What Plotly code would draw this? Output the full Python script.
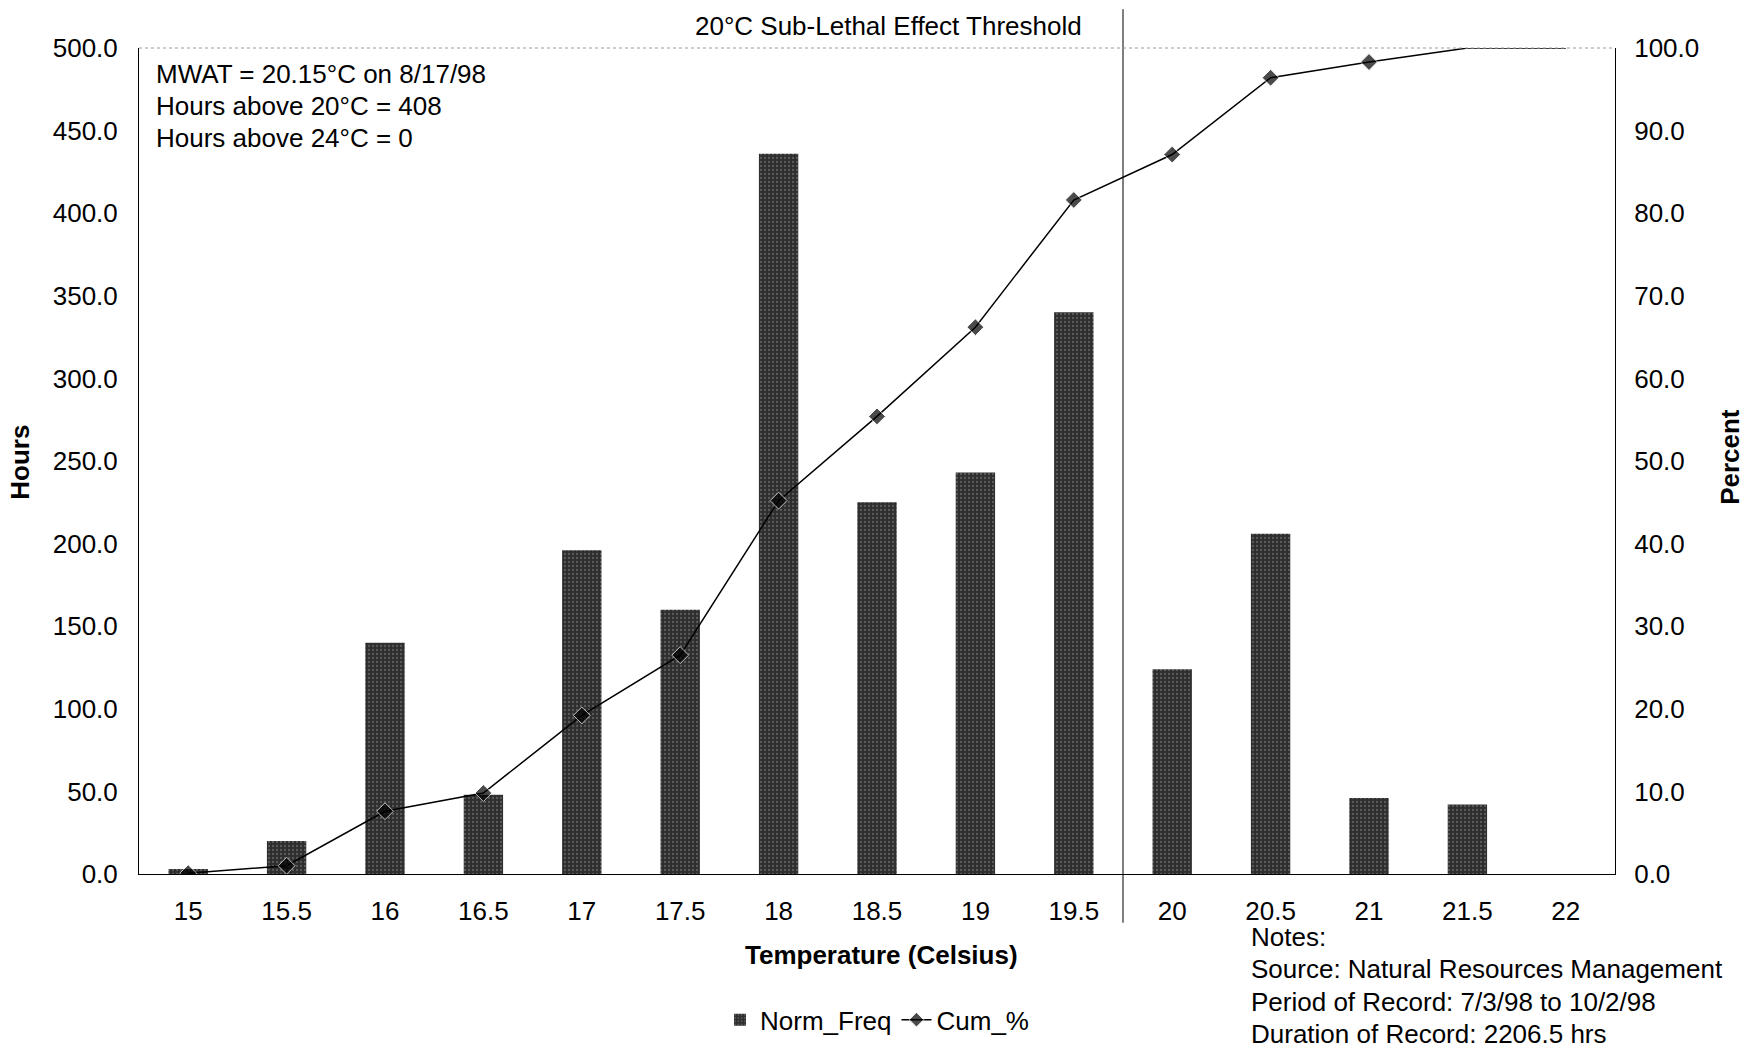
import plotly.graph_objects as go

# 数据：温度分档、归一化频数（小时）与累计百分比
temps = ["15", "15.5", "16", "16.5", "17", "17.5", "18", "18.5", "19", "19.5",
         "20", "20.5", "21", "21.5", "22"]
norm_freq = [3, 20, 140, 48, 196, 160, 436, 225, 243, 340, 124, 206, 46, 42, 0]
cum_pct = [0.1, 1.0, 7.6, 9.8, 19.2, 26.5, 45.2, 55.4, 66.2, 81.6, 87.1, 96.4,
           98.3, 100.0, 100.0]

threshold = "20"
summary_lines = ["MWAT = 20.15°C on 8/17/98",
                 "Hours above 20°C = 408",
                 "Hours above 24°C = 0"]
notes_lines = ["Notes:",
               "Source: Natural Resources Management",
               "Period of Record: 7/3/98 to 10/2/98",
               "Duration of Record: 2206.5 hrs"]

FONT = "Liberation Sans, Arial, sans-serif"
FS = 26
LINE_STEP = 0.0391  # 行距（paper 坐标）

fig = go.Figure()

fig.add_trace(go.Bar(
    x=temps, y=norm_freq, name="Norm_Freq", width=0.40,
    marker=dict(color="#3b3b3b", line=dict(width=0),
                pattern=dict(shape=".", fgcolor="#8a8a8a", bgcolor="#2e2e2e",
                             size=4, solidity=0.25)),
))

# 最后两个点贴在上边框，原图看不到菱形
marker_sizes = [13] * (len(temps) - 2) + [0, 0]
fig.add_trace(go.Scatter(
    x=temps, y=cum_pct, name="Cum_%", yaxis="y2", mode="lines+markers",
    line=dict(color="black", width=1.5),
    marker=dict(symbol="diamond", size=marker_sizes, color="black"),
))

# 20°C 阈值竖线
thr_x = temps.index(threshold) - 0.5
fig.add_shape(type="line", xref="x", yref="paper", x0=thr_x, x1=thr_x,
              y0=-0.059, y1=1.047, line=dict(color="black", width=1))
# 上边框（原图为浅色虚线）
fig.add_shape(type="line", xref="paper", yref="paper", x0=0, x1=1, y0=1, y1=1,
              line=dict(color="#9a9a9a", width=1, dash="dot"))

fig.add_annotation(text="20°C Sub-Lethal Effect Threshold", xref="paper", yref="paper",
                   x=0.508, y=1.027, xanchor="center", yanchor="middle", showarrow=False,
                   font=dict(family=FONT, size=FS, color="black"))

for i, line in enumerate(summary_lines):
    fig.add_annotation(text=line, xref="paper", yref="paper",
                       x=0.0102, y=0.969 - i * LINE_STEP, xanchor="left", yanchor="middle",
                       showarrow=False, font=dict(family=FONT, size=FS, color="black"))

for i, line in enumerate(notes_lines):
    fig.add_annotation(text=line, xref="paper", yref="paper", borderpad=0,
                       x=0.753, y=-0.0763 - i * LINE_STEP, xanchor="left", yanchor="middle",
                       showarrow=False, font=dict(family=FONT, size=FS, color="black"))

fig.add_annotation(text="<b>Hours</b>", xref="paper", yref="paper", x=-0.0806, y=0.498,
                   textangle=-90, showarrow=False, xanchor="center", yanchor="middle",
                   font=dict(family=FONT, size=FS, color="black"))
fig.add_annotation(text="<b>Percent</b>", xref="paper", yref="paper", x=1.0779, y=0.505,
                   textangle=-90, showarrow=False, xanchor="center", yanchor="middle",
                   font=dict(family=FONT, size=FS, color="black"))
fig.add_annotation(text="<b>Temperature (Celsius)</b>", xref="paper", yref="paper",
                   x=0.503, y=-0.0985, showarrow=False, xanchor="center", yanchor="middle",
                   font=dict(family=FONT, size=FS, color="black"))

fig.update_layout(
    width=1748, height=1047,
    margin=dict(l=139, r=133, t=48, b=173),
    paper_bgcolor="white", plot_bgcolor="white",
    font=dict(family=FONT, size=FS, color="black"),
    bargap=0.6,
    xaxis=dict(type="category", range=[-0.5, len(temps) - 0.5], showgrid=False,
               showline=True, linecolor="black", linewidth=1, ticks="",
               ticklabelstandoff=14, tickfont=dict(size=FS), automargin=False),
    yaxis=dict(range=[0, 500], dtick=50, tickformat=".1f", showgrid=False,
               showline=True, linecolor="black", linewidth=1, ticks="",
               zeroline=False, ticklabelstandoff=15, tickfont=dict(size=FS),
               automargin=False),
    yaxis2=dict(range=[0, 100], dtick=10, tickformat=".1f", overlaying="y", side="right",
                showgrid=False, showline=True, linecolor="black", linewidth=1, ticks="",
                zeroline=False, ticklabelstandoff=13, tickfont=dict(size=FS),
                automargin=False),
    legend=dict(orientation="h", x=0.5, xanchor="center",
                yref="container", y=0.026, yanchor="middle",
                font=dict(family=FONT, size=FS), bgcolor="rgba(0,0,0,0)"),
    showlegend=True,
)

# 去掉页面 body 默认的 8px 边距，使图与窗口对齐
fig.write_html("out.html", config={"displayModeBar": False},
               post_script="document.body.style.margin='0';")
